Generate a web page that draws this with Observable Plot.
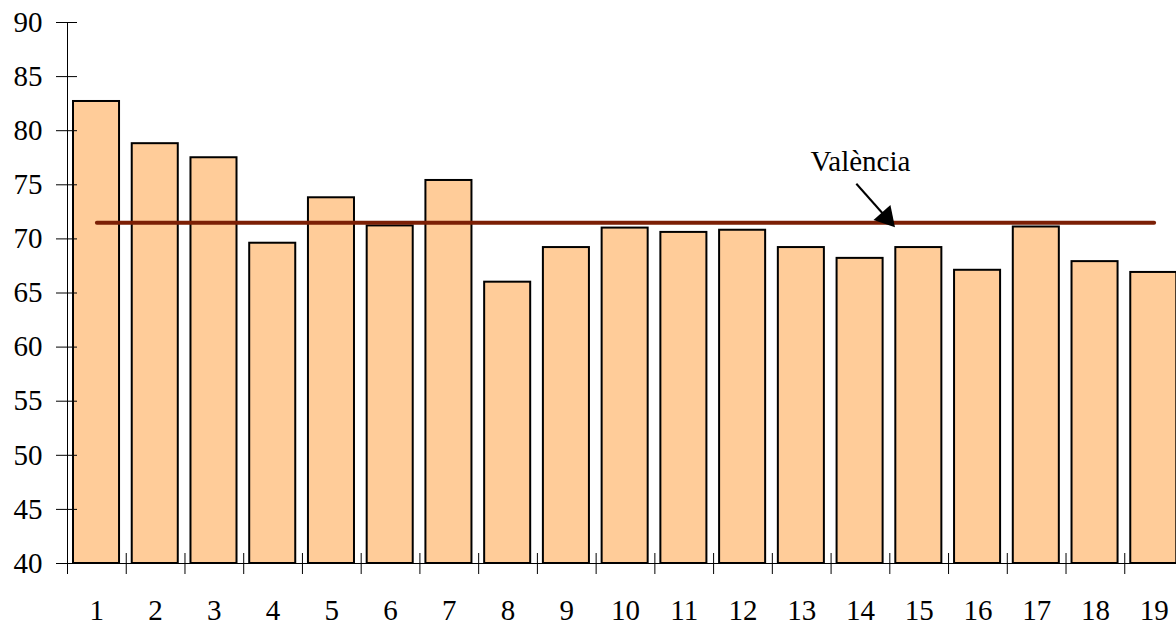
<!DOCTYPE html>
<html>
<head>
<meta charset="utf-8">
<script src="https://cdn.jsdelivr.net/npm/d3@7"></script>
<script src="https://cdn.jsdelivr.net/npm/@observablehq/plot@0.6"></script>
<style>
  html, body { margin: 0; padding: 0; background: #fff; overflow: hidden; }
  #chart svg { display: block; }
  #chart svg text { font-family: "Liberation Serif", "Times New Roman", serif !important; }
</style>
</head>
<body>
<div id="chart"></div>
<script>
// ---- data ----
const categories = [1, 2, 3, 4, 5, 6, 7, 8, 9, 10, 11, 12, 13, 14, 15, 16, 17, 18, 19];
const values = [82.7, 78.8, 77.5, 69.6, 73.8, 71.2, 75.4, 66.0, 69.2, 71.0, 70.6, 70.8, 69.2, 68.2, 69.2, 67.1, 71.1, 67.9, 66.9];
const valenciaValue = 71.5;
const valenciaSpan = [1, 19];
const yTicks = [40, 45, 50, 55, 60, 65, 70, 75, 80, 85, 90];
const xTickLabels = categories;
const xBoundaries = [0.5, 1.5, 2.5, 3.5, 4.5, 5.5, 6.5, 7.5, 8.5, 9.5, 10.5, 11.5, 12.5, 13.5, 14.5, 15.5, 16.5, 17.5, 18.5];
const annotationText = "València";
const annotationLabelAt = [14.0, 77.1];
const annotationFrom = [13.93, 75.1];
const annotationHeadAt = [14.44, 71.98];

// ---- build tables ----
const bars = categories.map((c, i) => ({cat: c, value: values[i]}));
const valLine = valenciaSpan.map(x => ({x, y: valenciaValue}));

const font = "Liberation Serif";
const fs = 29;

const chart = Plot.plot({
  width: 1176,
  height: 626,
  marginTop: 22,
  marginBottom: 63,
  marginLeft: 67,
  marginRight: 0,
  style: {fontFamily: font, fontSize: fs + "px", background: "#fff", overflow: "hidden"},
  x: {domain: [0.5, 19.5], range: [67, 1183], axis: null},
  y: {domain: [40, 90], axis: null},
  marks: [
    // bars
    Plot.rectY(bars, {
      x1: d => d.cat - 0.5, x2: d => d.cat + 0.5,
      y1: 40, y2: "value",
      insetLeft: 6, insetRight: 6.7,
      fill: "#FFCC99", stroke: "#000", strokeWidth: 2
    }),
    // axis lines
    Plot.ruleX([0.5], {y1: 40, y2: 90, stroke: "#000", strokeWidth: 1}),
    Plot.ruleY([40], {x1: 0.5, x2: 19.5, stroke: "#000", strokeWidth: 1}),
    // y ticks crossing axis
    Plot.axisY({ticks: yTicks, tickSize: 21, dx: 10, tickPadding: 14, fontSize: fs, fontFamily: font, stroke: "#000", strokeWidth: 1, label: null}),
    // x boundary ticks crossing axis
    Plot.axisX({ticks: xBoundaries, tickSize: 21, dy: -10, tickFormat: () => "", label: null, stroke: "#000", strokeWidth: 1}),
    // x labels
    Plot.axisX({ticks: xTickLabels, tickSize: 0, tickPadding: 36, fontSize: fs, fontFamily: font, label: null, tickFormat: d => String(d)}),
    // Valencia line
    Plot.line(valLine, {x: "x", y: "y", stroke: "#7B1F05", strokeWidth: 4, strokeLinecap: "round"}),
    // annotation
    Plot.text([annotationText], {x: annotationLabelAt[0], y: annotationLabelAt[1], text: d => d, fontSize: fs, fontFamily: font, fill: "#000"}),
    Plot.link([0], {x1: annotationFrom[0], y1: annotationFrom[1], x2: annotationHeadAt[0], y2: annotationHeadAt[1], stroke: "#000", strokeWidth: 2}),
    Plot.dot([0], {x: annotationHeadAt[0], y: annotationHeadAt[1], symbol: "triangle", r: 8.4, fill: "#000", stroke: "none", rotate: 138.4})
  ]
});
document.getElementById("chart").appendChild(chart);
</script>
</body>
</html>
